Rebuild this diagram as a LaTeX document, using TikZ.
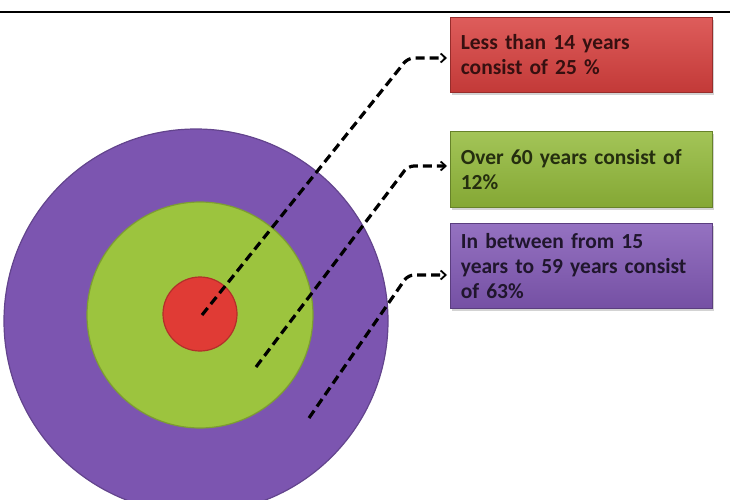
\documentclass[tikz,border=0pt]{standalone}
\usepackage{fontspec}
\setmainfont{Carlito}
\usepackage{xcolor}
\usetikzlibrary{arrows.meta,positioning,shadows}

\definecolor{ringP}{HTML}{7C55B0}
\definecolor{ringG}{HTML}{9CC43E}
\definecolor{ringR}{HTML}{E03B35}
\definecolor{boxR}{HTML}{D8403E}
\definecolor{boxG}{HTML}{93BA3A}
\definecolor{boxP}{HTML}{8259B6}

\begin{document}
\begin{tikzpicture}[
  x=1pt, y=-1pt,
  font=\bfseries\fontsize{21.5}{25}\selectfont,
  ring/.style={circle, draw=#1!80!black, fill=#1, line width=1.2pt, inner sep=0pt},
  b/.style={anchor=north west, align=left, text width=241pt, inner xsep=10.5pt, inner ysep=6pt,
    draw=#1!70!black, line width=0.6pt, top color=#1!85!white, bottom color=#1!90!black,
    text=#1!25!black, drop shadow={opacity=0.35, shadow xshift=2pt, shadow yshift=-3pt}},
  pf/.style={line width=3.2pt, dash pattern=on 9pt off 5pt, rounded corners=6pt,
    -{Straight Barb[length=5pt, width=9pt, line width=1.8pt]}, shorten >=3pt}
]
\useasboundingbox (0,0) rectangle (730,500);
\clip (0,0) rectangle (730,500);
\draw[line width=1.2pt] (0,12) -- (730,12);

% target rings
\node[ring=ringP, minimum size=384pt] (outer) at (196,321) {};
\node[ring=ringG, minimum size=226pt] (mid) at (200,315) {};
\node[ring=ringR, minimum size=74pt] (core) at (200,314) {};

% legend boxes
\node[b=boxR, minimum height=75pt] (young) at (450,17) {Less than 14 years\\consist of 25 \%};
\node[b=boxG, minimum height=76pt] (old) at (450,131) {Over 60 years consist of\\12\%};
\node[b=boxP, minimum height=85pt] (adult) at (450,223) {In between from 15\\years to 59 years consist\\of 63\%};

% leader lines
\coordinate (c1) at (202,315);
\coordinate (c2) at (256,367);
\coordinate (c3) at (309,418);
\coordinate (k1) at (408,58);
\coordinate (k2) at (408,166);
\coordinate (k3) at (408,275);
\draw[pf] (c1) -- (k1) -- (k1 -| young.west);
\draw[pf] (c2) -- (k2) -- (k2 -| old.west);
\draw[pf] (c3) -- (k3) -- (k3 -| adult.west);
\end{tikzpicture}
\end{document}
